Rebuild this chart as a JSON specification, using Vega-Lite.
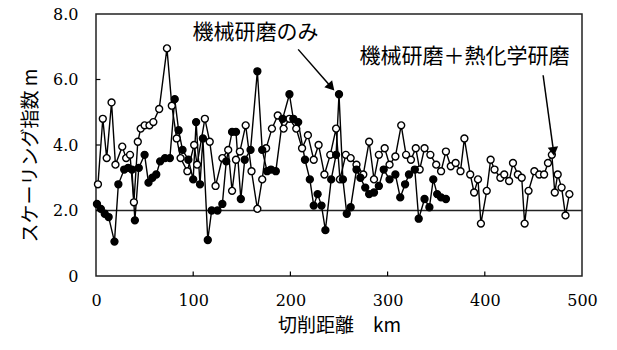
{
  "$schema": "https://vega.github.io/schema/vega-lite/v6.json",
  "width": 486,
  "height": 262,
  "autosize": "none",
  "padding": {"left": 96, "top": 14, "right": 35, "bottom": 74},
  "background": "white",
  "config": {
    "view": {"stroke": "#222", "strokeWidth": 1.5},
    "axis": {
      "grid": false,
      "domain": false,
      "ticks": false,
      "labelFlush": false,
      "labelColor": "black",
      "labelFont": "DejaVu Serif",
      "labelFontSize": 16,
      "titleFont": "Noto Sans CJK JP",
      "titleFontSize": 19,
      "titleFontWeight": "normal",
      "titleColor": "black"
    }
  },
  "datasets": {
    "series": [
      {"x": 2, "m": 2.8, "s": "機械研磨＋熱化学研磨"},
      {"x": 7, "m": 4.8, "s": "機械研磨＋熱化学研磨"},
      {"x": 11, "m": 3.6, "s": "機械研磨＋熱化学研磨"},
      {"x": 16, "m": 5.3, "s": "機械研磨＋熱化学研磨"},
      {"x": 20, "m": 3.4, "s": "機械研磨＋熱化学研磨"},
      {"x": 27, "m": 3.95, "s": "機械研磨＋熱化学研磨"},
      {"x": 31, "m": 3.6, "s": "機械研磨＋熱化学研磨"},
      {"x": 35, "m": 3.7, "s": "機械研磨＋熱化学研磨"},
      {"x": 39, "m": 2.25, "s": "機械研磨＋熱化学研磨"},
      {"x": 43, "m": 4.1, "s": "機械研磨＋熱化学研磨"},
      {"x": 46, "m": 4.5, "s": "機械研磨＋熱化学研磨"},
      {"x": 50, "m": 4.6, "s": "機械研磨＋熱化学研磨"},
      {"x": 55, "m": 4.6, "s": "機械研磨＋熱化学研磨"},
      {"x": 59, "m": 4.7, "s": "機械研磨＋熱化学研磨"},
      {"x": 65, "m": 5.1, "s": "機械研磨＋熱化学研磨"},
      {"x": 73, "m": 6.95, "s": "機械研磨＋熱化学研磨"},
      {"x": 78, "m": 5.2, "s": "機械研磨＋熱化学研磨"},
      {"x": 83, "m": 4.2, "s": "機械研磨＋熱化学研磨"},
      {"x": 87, "m": 3.6, "s": "機械研磨＋熱化学研磨"},
      {"x": 94, "m": 3.2, "s": "機械研磨＋熱化学研磨"},
      {"x": 101, "m": 4.0, "s": "機械研磨＋熱化学研磨"},
      {"x": 104, "m": 3.4, "s": "機械研磨＋熱化学研磨"},
      {"x": 112, "m": 4.8, "s": "機械研磨＋熱化学研磨"},
      {"x": 117, "m": 4.1, "s": "機械研磨＋熱化学研磨"},
      {"x": 123, "m": 2.75, "s": "機械研磨＋熱化学研磨"},
      {"x": 130, "m": 3.6, "s": "機械研磨＋熱化学研磨"},
      {"x": 136, "m": 3.85, "s": "機械研磨＋熱化学研磨"},
      {"x": 140, "m": 2.6, "s": "機械研磨＋熱化学研磨"},
      {"x": 144, "m": 3.55, "s": "機械研磨＋熱化学研磨"},
      {"x": 148, "m": 3.8, "s": "機械研磨＋熱化学研磨"},
      {"x": 154, "m": 4.6, "s": "機械研磨＋熱化学研磨"},
      {"x": 160, "m": 3.2, "s": "機械研磨＋熱化学研磨"},
      {"x": 166, "m": 2.05, "s": "機械研磨＋熱化学研磨"},
      {"x": 171, "m": 2.95, "s": "機械研磨＋熱化学研磨"},
      {"x": 175, "m": 3.9, "s": "機械研磨＋熱化学研磨"},
      {"x": 181, "m": 4.5, "s": "機械研磨＋熱化学研磨"},
      {"x": 187, "m": 4.9, "s": "機械研磨＋熱化学研磨"},
      {"x": 193, "m": 4.5, "s": "機械研磨＋熱化学研磨"},
      {"x": 199, "m": 4.8, "s": "機械研磨＋熱化学研磨"},
      {"x": 206, "m": 4.5, "s": "機械研磨＋熱化学研磨"},
      {"x": 212, "m": 3.9, "s": "機械研磨＋熱化学研磨"},
      {"x": 218, "m": 4.3, "s": "機械研磨＋熱化学研磨"},
      {"x": 224, "m": 3.55, "s": "機械研磨＋熱化学研磨"},
      {"x": 229, "m": 4.0, "s": "機械研磨＋熱化学研磨"},
      {"x": 235, "m": 3.1, "s": "機械研磨＋熱化学研磨"},
      {"x": 241, "m": 3.7, "s": "機械研磨＋熱化学研磨"},
      {"x": 247, "m": 4.5, "s": "機械研磨＋熱化学研磨"},
      {"x": 251, "m": 2.95, "s": "機械研磨＋熱化学研磨"},
      {"x": 257, "m": 3.7, "s": "機械研磨＋熱化学研磨"},
      {"x": 262, "m": 3.6, "s": "機械研磨＋熱化学研磨"},
      {"x": 268, "m": 3.4, "s": "機械研磨＋熱化学研磨"},
      {"x": 275, "m": 3.1, "s": "機械研磨＋熱化学研磨"},
      {"x": 281, "m": 4.1, "s": "機械研磨＋熱化学研磨"},
      {"x": 286, "m": 2.95, "s": "機械研磨＋熱化学研磨"},
      {"x": 291, "m": 3.7, "s": "機械研磨＋熱化学研磨"},
      {"x": 297, "m": 3.9, "s": "機械研磨＋熱化学研磨"},
      {"x": 302, "m": 3.4, "s": "機械研磨＋熱化学研磨"},
      {"x": 308, "m": 3.65, "s": "機械研磨＋熱化学研磨"},
      {"x": 314, "m": 4.6, "s": "機械研磨＋熱化学研磨"},
      {"x": 319, "m": 3.7, "s": "機械研磨＋熱化学研磨"},
      {"x": 324, "m": 3.55, "s": "機械研磨＋熱化学研磨"},
      {"x": 329, "m": 3.9, "s": "機械研磨＋熱化学研磨"},
      {"x": 333, "m": 3.25, "s": "機械研磨＋熱化学研磨"},
      {"x": 338, "m": 3.9, "s": "機械研磨＋熱化学研磨"},
      {"x": 344, "m": 3.7, "s": "機械研磨＋熱化学研磨"},
      {"x": 350, "m": 3.4, "s": "機械研磨＋熱化学研磨"},
      {"x": 355, "m": 3.2, "s": "機械研磨＋熱化学研磨"},
      {"x": 360, "m": 3.8, "s": "機械研磨＋熱化学研磨"},
      {"x": 365, "m": 3.35, "s": "機械研磨＋熱化学研磨"},
      {"x": 370, "m": 3.45, "s": "機械研磨＋熱化学研磨"},
      {"x": 375, "m": 3.2, "s": "機械研磨＋熱化学研磨"},
      {"x": 379, "m": 4.2, "s": "機械研磨＋熱化学研磨"},
      {"x": 385, "m": 3.1, "s": "機械研磨＋熱化学研磨"},
      {"x": 389, "m": 2.55, "s": "機械研磨＋熱化学研磨"},
      {"x": 393, "m": 2.95, "s": "機械研磨＋熱化学研磨"},
      {"x": 396, "m": 1.6, "s": "機械研磨＋熱化学研磨"},
      {"x": 402, "m": 2.6, "s": "機械研磨＋熱化学研磨"},
      {"x": 406, "m": 3.55, "s": "機械研磨＋熱化学研磨"},
      {"x": 410, "m": 3.25, "s": "機械研磨＋熱化学研磨"},
      {"x": 416, "m": 3.0, "s": "機械研磨＋熱化学研磨"},
      {"x": 420, "m": 3.1, "s": "機械研磨＋熱化学研磨"},
      {"x": 425, "m": 2.9, "s": "機械研磨＋熱化学研磨"},
      {"x": 429, "m": 3.45, "s": "機械研磨＋熱化学研磨"},
      {"x": 434, "m": 3.1, "s": "機械研磨＋熱化学研磨"},
      {"x": 438, "m": 3.0, "s": "機械研磨＋熱化学研磨"},
      {"x": 441, "m": 1.6, "s": "機械研磨＋熱化学研磨"},
      {"x": 445, "m": 2.6, "s": "機械研磨＋熱化学研磨"},
      {"x": 451, "m": 3.2, "s": "機械研磨＋熱化学研磨"},
      {"x": 456, "m": 3.1, "s": "機械研磨＋熱化学研磨"},
      {"x": 461, "m": 3.1, "s": "機械研磨＋熱化学研磨"},
      {"x": 465, "m": 3.45, "s": "機械研磨＋熱化学研磨"},
      {"x": 469, "m": 3.7, "s": "機械研磨＋熱化学研磨"},
      {"x": 472, "m": 2.55, "s": "機械研磨＋熱化学研磨"},
      {"x": 475, "m": 3.1, "s": "機械研磨＋熱化学研磨"},
      {"x": 479, "m": 2.7, "s": "機械研磨＋熱化学研磨"},
      {"x": 483, "m": 1.85, "s": "機械研磨＋熱化学研磨"},
      {"x": 487, "m": 2.5, "s": "機械研磨＋熱化学研磨"},
      {"x": 1, "m": 2.2, "s": "機械研磨のみ"},
      {"x": 5, "m": 2.05, "s": "機械研磨のみ"},
      {"x": 9, "m": 1.9, "s": "機械研磨のみ"},
      {"x": 13, "m": 1.8, "s": "機械研磨のみ"},
      {"x": 19, "m": 1.05, "s": "機械研磨のみ"},
      {"x": 23, "m": 2.8, "s": "機械研磨のみ"},
      {"x": 29, "m": 3.25, "s": "機械研磨のみ"},
      {"x": 33, "m": 3.3, "s": "機械研磨のみ"},
      {"x": 37, "m": 3.25, "s": "機械研磨のみ"},
      {"x": 40, "m": 1.7, "s": "機械研磨のみ"},
      {"x": 44, "m": 3.3, "s": "機械研磨のみ"},
      {"x": 50, "m": 3.7, "s": "機械研磨のみ"},
      {"x": 54, "m": 2.85, "s": "機械研磨のみ"},
      {"x": 58, "m": 3.0, "s": "機械研磨のみ"},
      {"x": 62, "m": 3.1, "s": "機械研磨のみ"},
      {"x": 66, "m": 3.5, "s": "機械研磨のみ"},
      {"x": 71, "m": 3.6, "s": "機械研磨のみ"},
      {"x": 76, "m": 3.6, "s": "機械研磨のみ"},
      {"x": 81, "m": 5.4, "s": "機械研磨のみ"},
      {"x": 85, "m": 4.45, "s": "機械研磨のみ"},
      {"x": 89, "m": 3.85, "s": "機械研磨のみ"},
      {"x": 95, "m": 3.55, "s": "機械研磨のみ"},
      {"x": 100, "m": 2.95, "s": "機械研磨のみ"},
      {"x": 103, "m": 4.7, "s": "機械研磨のみ"},
      {"x": 107, "m": 2.8, "s": "機械研磨のみ"},
      {"x": 110, "m": 4.2, "s": "機械研磨のみ"},
      {"x": 115, "m": 1.1, "s": "機械研磨のみ"},
      {"x": 119, "m": 2.0, "s": "機械研磨のみ"},
      {"x": 125, "m": 2.0, "s": "機械研磨のみ"},
      {"x": 130, "m": 2.2, "s": "機械研磨のみ"},
      {"x": 134, "m": 3.5, "s": "機械研磨のみ"},
      {"x": 140, "m": 4.4, "s": "機械研磨のみ"},
      {"x": 144, "m": 4.4, "s": "機械研磨のみ"},
      {"x": 149, "m": 2.35, "s": "機械研磨のみ"},
      {"x": 153, "m": 3.55, "s": "機械研磨のみ"},
      {"x": 159, "m": 3.85, "s": "機械研磨のみ"},
      {"x": 166, "m": 6.25, "s": "機械研磨のみ"},
      {"x": 171, "m": 3.85, "s": "機械研磨のみ"},
      {"x": 176, "m": 3.2, "s": "機械研磨のみ"},
      {"x": 180, "m": 3.25, "s": "機械研磨のみ"},
      {"x": 185, "m": 3.2, "s": "機械研磨のみ"},
      {"x": 192, "m": 4.8, "s": "機械研磨のみ"},
      {"x": 199, "m": 5.55, "s": "機械研磨のみ"},
      {"x": 203, "m": 4.8, "s": "機械研磨のみ"},
      {"x": 208, "m": 4.7, "s": "機械研磨のみ"},
      {"x": 215, "m": 3.55, "s": "機械研磨のみ"},
      {"x": 220, "m": 2.95, "s": "機械研磨のみ"},
      {"x": 224, "m": 2.15, "s": "機械研磨のみ"},
      {"x": 228, "m": 2.5, "s": "機械研磨のみ"},
      {"x": 232, "m": 2.15, "s": "機械研磨のみ"},
      {"x": 236, "m": 1.4, "s": "機械研磨のみ"},
      {"x": 242, "m": 2.95, "s": "機械研磨のみ"},
      {"x": 247, "m": 3.7, "s": "機械研磨のみ"},
      {"x": 250, "m": 5.55, "s": "機械研磨のみ"},
      {"x": 254, "m": 2.95, "s": "機械研磨のみ"},
      {"x": 258, "m": 1.9, "s": "機械研磨のみ"},
      {"x": 262, "m": 2.1, "s": "機械研磨のみ"},
      {"x": 268, "m": 3.25, "s": "機械研磨のみ"},
      {"x": 272, "m": 3.0, "s": "機械研磨のみ"},
      {"x": 277, "m": 2.7, "s": "機械研磨のみ"},
      {"x": 281, "m": 2.5, "s": "機械研磨のみ"},
      {"x": 286, "m": 2.55, "s": "機械研磨のみ"},
      {"x": 291, "m": 2.75, "s": "機械研磨のみ"},
      {"x": 296, "m": 3.25, "s": "機械研磨のみ"},
      {"x": 302, "m": 2.95, "s": "機械研磨のみ"},
      {"x": 308, "m": 3.1, "s": "機械研磨のみ"},
      {"x": 313, "m": 2.4, "s": "機械研磨のみ"},
      {"x": 318, "m": 2.8, "s": "機械研磨のみ"},
      {"x": 322, "m": 3.1, "s": "機械研磨のみ"},
      {"x": 328, "m": 3.25, "s": "機械研磨のみ"},
      {"x": 332, "m": 1.75, "s": "機械研磨のみ"},
      {"x": 338, "m": 2.35, "s": "機械研磨のみ"},
      {"x": 343, "m": 2.1, "s": "機械研磨のみ"},
      {"x": 347, "m": 2.95, "s": "機械研磨のみ"},
      {"x": 351, "m": 2.5, "s": "機械研磨のみ"},
      {"x": 355, "m": 2.4, "s": "機械研磨のみ"},
      {"x": 360, "m": 2.35, "s": "機械研磨のみ"}
    ],
    "labels": [
      {"x": 164, "m": 7.42, "text": "機械研磨のみ"},
      {"x": 379, "m": 6.7, "text": "機械研磨＋熱化学研磨"}
    ],
    "arrows": [
      {"x": 208, "m": 6.92, "x2": 241, "m2": 5.8, "angle": 138},
      {"x": 460, "m": 6.13, "x2": 470.5, "m2": 3.85, "angle": 172}
    ],
    "yticks": [{"v": 2}, {"v": 4}, {"v": 6}],
    "xticks": [{"v": 100}, {"v": 200}, {"v": 300}, {"v": 400}]
  },
  "layer": [
    {
      "data": {"values": [{"level": 2}]},
      "mark": {"type": "rule", "color": "#222", "strokeWidth": 1.5},
      "encoding": {
        "y": {"field": "level", "type": "quantitative", "scale": {"domain": [0, 8], "nice": false}}
      }
    },
    {
      "data": {"name": "yticks"},
      "mark": {"type": "rule", "color": "black", "strokeWidth": 1.2},
      "encoding": {
        "y": {"field": "v", "type": "quantitative"},
        "x": {"datum": 0, "type": "quantitative"},
        "x2": {"datum": 4.5}
      }
    },
    {
      "data": {"name": "xticks"},
      "mark": {"type": "rule", "color": "black", "strokeWidth": 1.2},
      "encoding": {
        "x": {"field": "v", "type": "quantitative"},
        "y": {"datum": 0, "type": "quantitative"},
        "y2": {"datum": 0.14}
      }
    },
    {
      "data": {"name": "series"},
      "mark": {"type": "line", "color": "black", "strokeWidth": 1.4},
      "encoding": {
        "x": {
          "field": "x", "type": "quantitative",
          "scale": {"domain": [0, 500], "nice": false},
          "axis": {"values": [0, 100, 200, 300, 400, 500], "title": "切削距離　km", "labelPadding": 16, "titlePadding": 8}
        },
        "y": {
          "field": "m", "type": "quantitative",
          "scale": {"domain": [0, 8], "nice": false},
          "axis": {"values": [0, 2, 4, 6, 8], "labelExpr": "datum.value == 0 ? '0' : format(datum.value, '.1f')", "title": "スケーリング指数 m", "labelPadding": 18, "titlePadding": 12, "titleY": 141}
        },
        "detail": {"field": "s"}
      }
    },
    {
      "data": {"name": "series"},
      "mark": {"type": "point", "shape": "circle", "filled": true, "stroke": "black", "strokeWidth": 1.4, "size": 48, "opacity": 1},
      "encoding": {
        "x": {"field": "x", "type": "quantitative"},
        "y": {"field": "m", "type": "quantitative"},
        "fill": {
          "field": "s", "type": "nominal",
          "scale": {"domain": ["機械研磨のみ", "機械研磨＋熱化学研磨"], "range": ["black", "white"]},
          "legend": null
        }
      }
    },
    {
      "data": {"name": "labels"},
      "mark": {"type": "text", "font": "Noto Sans CJK JP", "fontSize": 21, "color": "black", "align": "center", "baseline": "middle"},
      "encoding": {
        "x": {"field": "x", "type": "quantitative"},
        "y": {"field": "m", "type": "quantitative"},
        "text": {"field": "text"}
      }
    },
    {
      "data": {"name": "arrows"},
      "mark": {"type": "rule", "color": "black", "strokeWidth": 1.5},
      "encoding": {
        "x": {"field": "x", "type": "quantitative"},
        "y": {"field": "m", "type": "quantitative"},
        "x2": {"field": "x2"},
        "y2": {"field": "m2"}
      }
    },
    {
      "data": {"name": "arrows"},
      "mark": {"type": "point", "shape": "triangle", "filled": true, "color": "black", "size": 110, "opacity": 1},
      "encoding": {
        "x": {"field": "x2", "type": "quantitative"},
        "y": {"field": "m2", "type": "quantitative"},
        "angle": {"field": "angle", "type": "quantitative", "scale": null}
      }
    }
  ]
}
